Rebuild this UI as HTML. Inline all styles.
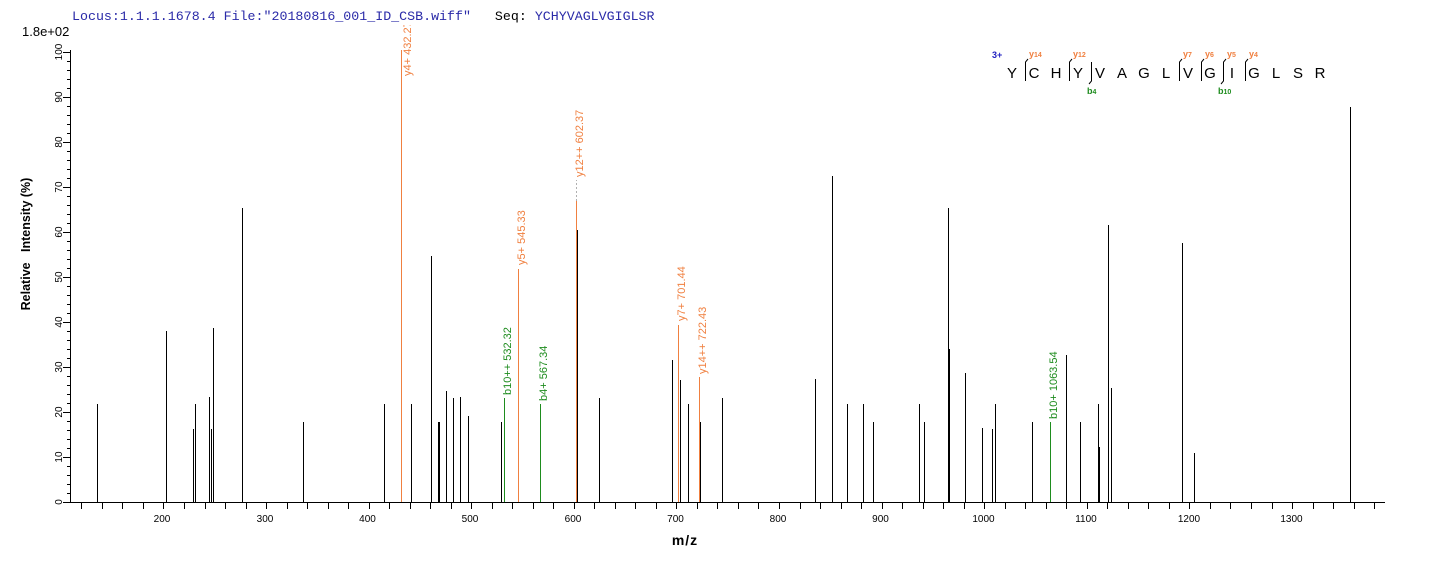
<!DOCTYPE html>
<html><head><meta charset="utf-8"><style>
html,body{margin:0;padding:0;background:#fff;}
svg{display:block;}
text{font-family:"Liberation Sans",Arial,sans-serif;}
.mono{font-family:"Liberation Mono","Courier New",monospace;}
</style></head><body>
<svg width="1436" height="562" viewBox="0 0 1436 562" xmlns="http://www.w3.org/2000/svg">
<rect width="1436" height="562" fill="#fff"/>
<defs><clipPath id="pc"><rect x="60" y="25" width="1340" height="490"/></clipPath></defs>

<!-- header -->
<text class="mono" x="72" y="20" font-size="13.3" fill="#2a2aa8" xml:space="preserve">Locus:1.1.1.1678.4 File:"20180816_001_ID_CSB.wiff"   <tspan fill="#000">Seq:</tspan> YCHYVAGLVGIGLSR</text>
<text x="22" y="36" font-size="13" fill="#000">1.8e+02</text>

<!-- axes -->
<g stroke="#000" stroke-width="1" shape-rendering="crispEdges">
<line x1="70.5" y1="50" x2="70.5" y2="503"/>
<line x1="70" y1="502.5" x2="1385" y2="502.5"/>
<path d="M63 502.5H71M67 493.5H71M67 484.5H71M67 475.5H71M67 466.5H71M63 457.5H71M67 448.5H71M67 439.5H71M67 430.5H71M67 421.5H71M63 412.5H71M67 403.5H71M67 394.5H71M67 385.5H71M67 376.5H71M63 367.5H71M67 358.5H71M67 349.5H71M67 340.5H71M67 331.5H71M63 322.5H71M67 313.5H71M67 304.5H71M67 295.5H71M67 286.5H71M63 277.5H71M67 268.5H71M67 259.5H71M67 250.5H71M67 241.5H71M63 232.5H71M67 223.5H71M67 214.5H71M67 205.5H71M67 196.5H71M63 187.5H71M67 178.5H71M67 169.5H71M67 160.5H71M67 151.5H71M63 142.5H71M67 133.5H71M67 124.5H71M67 115.5H71M67 106.5H71M63 97.5H71M67 88.5H71M67 79.5H71M67 70.5H71M67 61.5H71M63 52.5H71" fill="none"/>
<path d="M81.5 502V509M102.5 502V509M122.5 502V509M143.5 502V509M163.5 502V509M184.5 502V509M205.5 502V509M225.5 502V509M246.5 502V509M266.5 502V509M287.5 502V509M307.5 502V509M328.5 502V509M348.5 502V509M369.5 502V509M389.5 502V509M410.5 502V509M430.5 502V509M451.5 502V509M471.5 502V509M492.5 502V509M512.5 502V509M533.5 502V509M553.5 502V509M574.5 502V509M594.5 502V509M615.5 502V509M635.5 502V509M656.5 502V509M676.5 502V509M697.5 502V509M717.5 502V509M738.5 502V509M758.5 502V509M779.5 502V509M800.5 502V509M820.5 502V509M841.5 502V509M861.5 502V509M882.5 502V509M902.5 502V509M923.5 502V509M943.5 502V509M964.5 502V509M984.5 502V509M1005.5 502V509M1025.5 502V509M1046.5 502V509M1066.5 502V509M1087.5 502V509M1107.5 502V509M1128.5 502V509M1148.5 502V509M1169.5 502V509M1189.5 502V509M1210.5 502V509M1230.5 502V509M1251.5 502V509M1272.5 502V509M1292.5 502V509M1313.5 502V509M1333.5 502V509M1354.5 502V509M1374.5 502V509" fill="none"/>
</g>

<!-- y tick labels -->
<g font-size="10" fill="#000" text-anchor="middle">
<text transform="translate(62,502) rotate(-90)">0</text>
<text transform="translate(62,457) rotate(-90)">10</text>
<text transform="translate(62,412) rotate(-90)">20</text>
<text transform="translate(62,367) rotate(-90)">30</text>
<text transform="translate(62,322) rotate(-90)">40</text>
<text transform="translate(62,277) rotate(-90)">50</text>
<text transform="translate(62,232) rotate(-90)">60</text>
<text transform="translate(62,187) rotate(-90)">70</text>
<text transform="translate(62,142) rotate(-90)">80</text>
<text transform="translate(62,97) rotate(-90)">90</text>
<text transform="translate(62,52) rotate(-90)">100</text>
</g>
<!-- x tick labels -->
<g font-size="10" fill="#000" text-anchor="middle">
<text x="162" y="522">200</text>
<text x="265" y="522">300</text>
<text x="367.5" y="522">400</text>
<text x="470" y="522">500</text>
<text x="573" y="522">600</text>
<text x="675.5" y="522">700</text>
<text x="778" y="522">800</text>
<text x="880.5" y="522">900</text>
<text x="983.5" y="522">1000</text>
<text x="1086" y="522">1100</text>
<text x="1189" y="522">1200</text>
<text x="1291.5" y="522">1300</text>
</g>

<!-- axis titles -->
<text transform="translate(30,244) rotate(-90)" font-size="12.5" font-weight="bold" text-anchor="middle" xml:space="preserve">Relative   Intensity (%)</text>
<text x="685" y="545" font-size="14" font-weight="bold" text-anchor="middle" letter-spacing="1">m/z</text>

<!-- black peaks -->
<g stroke="#000" stroke-width="1" shape-rendering="crispEdges">
<path d="M97.5 502V404M166.5 502V331M193.5 502V429M195.5 502V404M209.5 502V397M211.5 502V429M213.5 502V328M242.5 502V208M303.5 502V422M384.5 502V404M411.5 502V404M431.5 502V256M438.5 502V422M439.5 502V422M446.5 502V391M453.5 502V398M460.5 502V397M468.5 502V416M501.5 502V422M577.5 502V230M599.5 502V398M672.5 502V360M680.5 502V380M688.5 502V404M700.5 502V422M722.5 502V398M815.5 502V379M832.5 502V176M847.5 502V404M863.5 502V404M873.5 502V422M919.5 502V404M924.5 502V422M948.5 502V208M949.5 502V349M965.5 502V373M982.5 502V428M992.5 502V429M995.5 502V404M1032.5 502V422M1066.5 502V355M1080.5 502V422M1098.5 502V404M1099.5 502V447M1108.5 502V225M1111.5 502V388M1182.5 502V243M1194.5 502V453M1350.5 502V107" fill="none"/>
</g>

<!-- colored peaks -->
<g stroke-width="1" shape-rendering="crispEdges" fill="none">
<path stroke="#f08040" d="M401.5 502V50M518.5 502V269M576.5 502V201M678.5 502V325M699.5 502V377"/>
<path stroke="#1e8c1e" d="M504.5 502V398M540.5 502V404M1050.5 502V422"/>
<path stroke="#b0b0b0" stroke-dasharray="2,2" d="M576.5 201V180"/>
</g>

<!-- peak labels -->
<g font-size="11" clip-path="url(#pc)">
<text transform="translate(411,76) rotate(-90)" fill="#f08040">y4+ 432.27</text>
<text transform="translate(525,265) rotate(-90)" fill="#f08040">y5+ 545.33</text>
<text transform="translate(583,177) rotate(-90)" fill="#f08040">y12++ 602.37</text>
<text transform="translate(685,321) rotate(-90)" fill="#f08040">y7+ 701.44</text>
<text transform="translate(706,374) rotate(-90)" fill="#f08040">y14++ 722.43</text>
<text transform="translate(511,395) rotate(-90)" fill="#1e8c1e">b10++ 532.32</text>
<text transform="translate(547,401) rotate(-90)" fill="#1e8c1e">b4+ 567.34</text>
<text transform="translate(1057,419) rotate(-90)" fill="#1e8c1e">b10+ 1063.54</text>
</g>

<!-- sequence annotation -->
<text x="992" y="58" font-size="9" font-weight="bold" fill="#2020c0">3+</text>
<g font-size="15" fill="#000" text-anchor="middle">
<text x="1012" y="78">Y</text><text x="1034" y="78">C</text><text x="1056" y="78">H</text><text x="1078" y="78">Y</text><text x="1100" y="78">V</text><text x="1122" y="78">A</text><text x="1144" y="78">G</text><text x="1166" y="78">L</text><text x="1188" y="78">V</text><text x="1210" y="78">G</text><text x="1232" y="78">I</text><text x="1254" y="78">G</text><text x="1276" y="78">L</text><text x="1298" y="78">S</text><text x="1320" y="78">R</text>
</g>
<g stroke="#000" stroke-width="1" fill="none">
<path d="M1025.5 81V62L1028 59M1069.5 81V62L1072 59M1179.5 81V62L1182 59M1201.5 81V62L1204 59M1223.5 81V62L1226 59M1245.5 81V62L1248 59"/>
<path d="M1091.5 62V81L1089 84M1223.5 62V81L1221 84"/>
</g>
<g font-weight="bold" fill="#f08040">
<text x="1029" y="57" font-size="9">y<tspan font-size="7">14</tspan></text>
<text x="1073" y="57" font-size="9">y<tspan font-size="7">12</tspan></text>
<text x="1183" y="57" font-size="9">y<tspan font-size="7">7</tspan></text>
<text x="1205" y="57" font-size="9">y<tspan font-size="7">6</tspan></text>
<text x="1227" y="57" font-size="9">y<tspan font-size="7">5</tspan></text>
<text x="1249" y="57" font-size="9">y<tspan font-size="7">4</tspan></text>
</g>
<g font-weight="bold" fill="#1e8c1e">
<text x="1087" y="94" font-size="9">b<tspan font-size="7">4</tspan></text>
<text x="1218" y="94" font-size="9">b<tspan font-size="7">10</tspan></text>
</g>
</svg>
</body></html>
